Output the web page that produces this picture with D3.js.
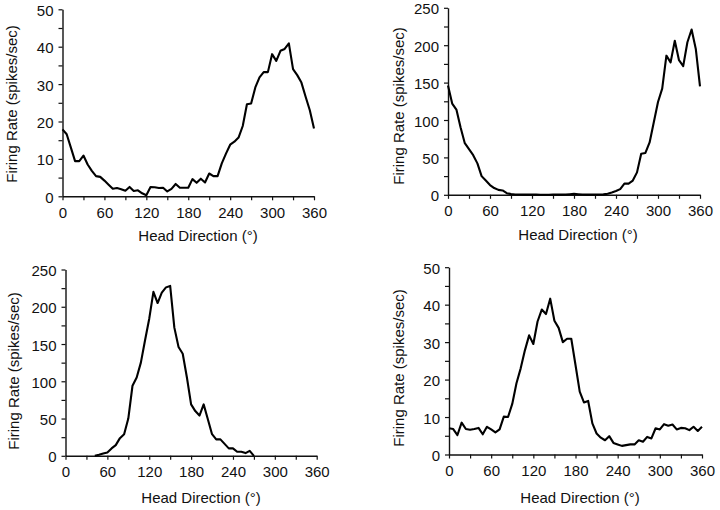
<!DOCTYPE html>
<html>
<head>
<meta charset="utf-8">
<script src="https://cdn.jsdelivr.net/npm/d3@7"></script>
<style>
  html, body { margin: 0; padding: 0; background: #fff; }
  svg { display: block; }
  text { font-family: "Liberation Sans", Arial, Helvetica, sans-serif; fill: #111; }
</style>
</head>
<body>
<svg id="chart" width="720" height="510"></svg>
<script>
// ---- data ----
const headDirection = [0,6,12,18,24,30,36,42,48,54,60,66,72,78,84,90,96,102,108,114,120,126,132,138,144,150,156,162,168,174,180,186,192,198,204,210,216,222,228,234,240,246,252,258,264,270,276,282,288,294,300,306,312,318,324,330,336,342,348,354,360];

const rateTopLeft = [17.9,16.6,13.0,9.4,9.4,10.9,8.5,6.8,5.4,5.2,4.2,3.1,2.0,2.2,1.9,1.5,2.5,1.4,1.6,0.8,0.3,2.5,2.4,2.2,2.3,1.3,2.0,3.3,2.3,2.3,2.3,4.6,3.6,4.7,3.7,6.1,5.4,5.4,8.8,11.4,13.8,14.6,15.7,18.8,24.6,24.8,29.1,31.8,33.2,33.2,38.0,36.2,38.9,39.4,40.9,34.0,32.4,30.4,26.6,23.0,18.1];

const rateTopRight = [146,122,114,90,69,61,53,42,25,19,13,9,6.6,5.8,2.2,0.9,0.5,0.4,0.3,0.2,0.2,0.2,0.1,0.1,0.1,0.2,0.2,0.3,0.5,0.8,1.2,0.8,0.4,0.3,0.2,0.3,0.4,0.6,1.5,3,5,7.6,15,15,19,30,55,56,70,97,124,142,186,177,206,180,172,204,221,195,145];

const rateBottomLeft = [null,null,null,null,null,null,null,0,1.3,3.1,4.5,9.9,14.3,23.7,29,50,94,105,125,155,184,220,205,219,226,228,172,146,137,105,69,60,54,69,49,29,22,22,16,10,10,5.4,5.4,3.6,6.7,0,null,null,null,null,null,null,null,null,null,null,null,null,null,null,null];

const rateBottomRight = [7.0,6.8,5.2,8.5,6.8,6.6,6.8,7.1,5.4,7.4,6.7,5.9,6.7,10.1,10.0,13.5,19.0,23.0,27.8,31.8,29.5,35.5,38.7,37.5,41.6,35.7,33.8,30.0,30.9,30.9,23.9,16.8,13.9,14.3,8.3,5.6,4.5,3.8,4.9,3.1,2.7,2.3,2.5,2.7,2.7,3.8,3.4,4.7,4.3,7.0,6.7,8.1,7.7,8.0,6.7,7.1,7.0,6.5,7.4,6.3,7.4];

const xTickValues = [0,30,60,90,120,150,180,210,240,270,300,330,360];
const xTickLabels = [0,60,120,180,240,300,360];
const yTicks50 = [0,5,10,15,20,25,30,35,40,45,50];
const yLabels50 = [0,10,20,30,40,50];
const yTicks250 = [0,25,50,75,100,125,150,175,200,225,250];
const yLabels250 = [0,50,100,150,200,250];

const xTitle = "Head Direction (°)";
const yTitle = "Firing Rate (spikes/sec)";

// ---- layout ----
const panels = [
  { values: rateTopLeft,     yMax: 50,  yTicks: yTicks50,  yLabels: yLabels50,
    left: 62.5, right: 314,  bottom: 196.3, top: 9.3,
    yTitlePos: [12, 104],   xTitlePos: [198, 241] },
  { values: rateTopRight,    yMax: 250, yTicks: yTicks250, yLabels: yLabels250,
    left: 448,  right: 700,  bottom: 194.8, top: 7.8,
    yTitlePos: [398.5, 106], xTitlePos: [578, 239.5] },
  { values: rateBottomLeft,  yMax: 250, yTicks: yTicks250, yLabels: yLabels250,
    left: 65.5, right: 316.7, bottom: 455.8, top: 269.5,
    yTitlePos: [14, 371],   xTitlePos: [201, 503] },
  { values: rateBottomRight, yMax: 50,  yTicks: yTicks50,  yLabels: yLabels50,
    left: 449,  right: 702,  bottom: 454.5, top: 267.2,
    yTitlePos: [399, 368],  xTitlePos: [580, 503] }
];

const svg = d3.select("#chart");

panels.forEach(p => {
  const x = d3.scaleLinear().domain([0, 360]).range([p.left, p.right]);
  const y = d3.scaleLinear().domain([0, p.yMax]).range([p.bottom, p.top]);
  const g = svg.append("g");

  const xAxis = d3.axisBottom(x)
    .tickValues(xTickValues)
    .tickFormat(d => xTickLabels.includes(d) ? d : "")
    .tickSizeInner(4).tickSizeOuter(0).tickPadding(7);
  const yAxis = d3.axisLeft(y)
    .tickValues(p.yTicks)
    .tickFormat(d => p.yLabels.includes(d) ? d : "")
    .tickSizeInner(4).tickSizeOuter(0).tickPadding(5);

  const gx = g.append("g").attr("transform", `translate(0,${p.bottom})`).call(xAxis);
  const gy = g.append("g").attr("transform", `translate(${p.left},0)`).call(yAxis);
  gy.selectAll(".tick text").attr("dy", "0.4em");
  [gx, gy].forEach(a => {
    a.selectAll("path.domain").attr("stroke", "#111").attr("stroke-width", 1.4);
    a.selectAll(".tick line").attr("stroke", "#111").attr("stroke-width", 1.2);
    a.selectAll(".tick text").attr("font-size", 15).attr("fill", "#111")
      .attr("font-family", '"Liberation Sans", Arial, Helvetica, sans-serif');
  });

  const pts = headDirection.map((a, i) => ({ a, v: p.values[i] }));
  const line = d3.line()
    .defined(d => d.v !== null)
    .x(d => x(d.a))
    .y(d => y(d.v));
  g.append("path")
    .datum(pts)
    .attr("fill", "none")
    .attr("stroke", "#000")
    .attr("stroke-width", 2.1)
    .attr("stroke-linejoin", "round")
    .attr("d", line);

  g.append("text")
    .attr("x", p.xTitlePos[0]).attr("y", p.xTitlePos[1])
    .attr("text-anchor", "middle").attr("font-size", 15)
    .text(xTitle);
  g.append("text")
    .attr("transform", `translate(${p.yTitlePos[0]},${p.yTitlePos[1]}) rotate(-90)`)
    .attr("text-anchor", "middle").attr("dy", "0.35em").attr("font-size", 15)
    .text(yTitle);
});
</script>
</body>
</html>
